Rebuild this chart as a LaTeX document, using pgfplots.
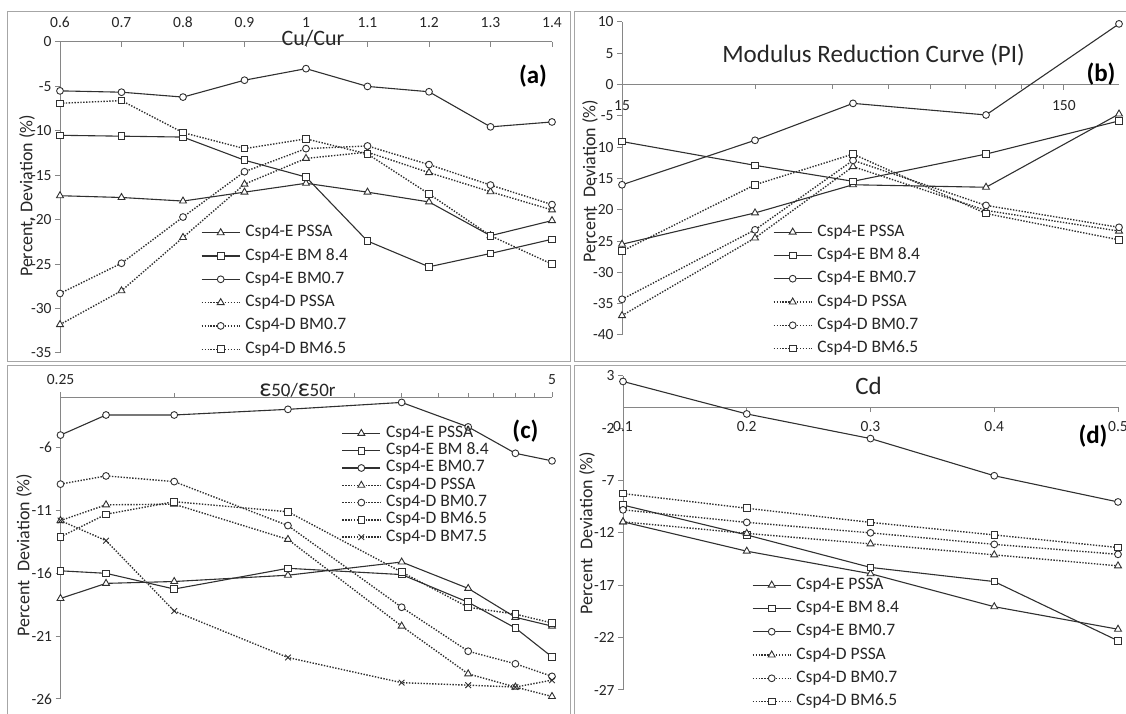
\documentclass[border=0pt]{standalone}
\usepackage{pgfplots}
\pgfplotsset{compat=1.18}
\usepackage{fontspec}
\setmainfont{Carlito}
\definecolor{axgray}{HTML}{868686}
\definecolor{frgray}{HTML}{A6A6A6}
\definecolor{ser}{HTML}{303030}
\definecolor{txt}{HTML}{262626}
\newcommand{\ticksz}{\fontsize{15.5}{17}\selectfont}
\newcommand{\legsz}{\fontsize{17.5}{19}\selectfont}
\pgfplotsset{
  every non boxed x axis/.style={},
  every non boxed y axis/.style={},
  panel/.style={
    scale only axis, clip=false,
    enlarge x limits=false, enlarge y limits=false,
    axis line style={draw=axgray, line width=1pt},
    tick style={draw=axgray, line width=1pt},
    major tick length=5pt, minor tick length=4pt,
    tick label style={font=\ticksz, text=txt},
    /pgf/number format/assume math mode=true,
    axis y line=left, ytick align=outside,
    hide obscured x ticks=false, hide obscured y ticks=false,
    legend cell align=left,
    legend style={draw=none, fill=none, inner sep=0pt, outer sep=0pt, anchor=north west,
      font=\legsz, text=txt, row sep=7.3pt,
      nodes={inner sep=0pt, outer sep=0pt, text height=12pt, text depth=4pt},
      /tikz/every odd column/.append style={column sep=5pt}},
    legend image code/.code={\draw[mark repeat=2,mark phase=2,##1] plot coordinates {(0pt,0pt) (19pt,0pt) (38pt,0pt)};},
  },
  es/.style={draw=ser, line width=1.1pt, solid, mark options={solid, fill=white, draw=ser, line width=0.9pt}},
  ds/.style={draw=ser, line width=1.4pt, dash pattern=on 1.4pt off 1.5pt, mark options={solid, fill=white, draw=ser, line width=0.9pt}},
  mtri/.style={mark=triangle*, mark size=4pt},
  msq/.style={mark=square*, mark size=3.3pt},
  mcir/.style={mark=*, mark size=3.4pt},
  mx/.style={mark=x, mark size=4pt},
}
\begin{document}
\begin{tikzpicture}
\useasboundingbox (0pt,0pt) rectangle (1126pt,714pt);
\clip (0pt,0pt) rectangle (1126pt,714pt);
% panel frames
\draw[frgray, line width=1pt] (7pt,352pt) rectangle (570pt,702pt);
\draw[frgray, line width=1pt] (574pt,352pt) rectangle (1135pt,702pt);
\draw[frgray, line width=1pt] (7pt,-10pt) rectangle (570pt,348pt);
\draw[frgray, line width=1pt] (574pt,-10pt) rectangle (1135pt,348pt);

% ---------------- (a)
\begin{axis}[panel, at={(60pt,361pt)}, anchor=south west, width=492pt, height=311pt,
  xmin=0.6, xmax=1.4, ymin=-35, ymax=0,
  axis x line=top, xtick align=inside,
  xtick={0.6,0.7,0.8,0.9,1,1.1,1.2,1.3,1.4},
  xticklabels={0.6,0.7,0.8,0.9,1,1.1,1.2,1.3,1.4},
  xticklabel style={inner sep=0pt, yshift=14pt},
  ytick={-35,-30,-25,-20,-15,-10,-5,0},
  legend style={at={(0.2866,0.4125)}},
  every inner x axis line/.append style={-}, every outer x axis line/.append style={-},
  every inner y axis line/.append style={-}, every outer y axis line/.append style={-}]
\addplot[es, mtri] coordinates {(0.6,-17.3) (0.7,-17.5) (0.8,-17.9) (0.9,-16.9) (1,-15.9) (1.1,-16.9) (1.2,-18.0) (1.3,-21.8) (1.4,-20.1)};
\addlegendentry{Csp4-E PSSA}
\addplot[es, msq] coordinates {(0.6,-10.5) (0.7,-10.6) (0.8,-10.7) (0.9,-13.3) (1,-15.2) (1.1,-22.4) (1.2,-25.3) (1.3,-23.8) (1.4,-22.2)};
\addlegendentry{Csp4-E BM 8.4}
\addplot[es, mcir] coordinates {(0.6,-5.5) (0.7,-5.65) (0.8,-6.2) (0.9,-4.3) (1,-3.0) (1.1,-5.0) (1.2,-5.6) (1.3,-9.55) (1.4,-9.0)};
\addlegendentry{Csp4-E BM0.7}
\addplot[ds, mtri] coordinates {(0.6,-31.8) (0.7,-28.0) (0.8,-22.0) (0.9,-16.0) (1,-13.1) (1.1,-12.4) (1.2,-14.7) (1.3,-16.85) (1.4,-18.9)};
\addlegendentry{Csp4-D PSSA}
\addplot[ds, mcir] coordinates {(0.6,-28.3) (0.7,-24.9) (0.8,-19.7) (0.9,-14.6) (1,-12.0) (1.1,-11.7) (1.2,-13.8) (1.3,-16.1) (1.4,-18.3)};
\addlegendentry{Csp4-D BM0.7}
\addplot[ds, msq] coordinates {(0.6,-6.9) (0.7,-6.6) (0.8,-10.2) (0.9,-12.0) (1,-10.9) (1.1,-12.6) (1.2,-17.1) (1.3,-21.8) (1.4,-25.0)};
\addlegendentry{Csp4-D BM6.5}
\end{axis}

% ---------------- (b)
\begin{axis}[panel, at={(622pt,379pt)}, anchor=south west, width=497pt, height=313pt,
  xmode=log, xmin=15, xmax=200, ymin=-40, ymax=10,
  axis x line=middle, xtick align=outside,
  xtick={15,150}, xticklabels={15,150}, minor xtick={},
  xticklabel style={yshift=-7pt},
  ytick={-40,-35,-30,-25,-20,-15,-10,-5,0,5,10},
  legend style={at={(0.3038,0.3543)}},
  every inner x axis line/.append style={-}, every outer x axis line/.append style={-},
  every inner y axis line/.append style={-}, every outer y axis line/.append style={-}]
\addplot[es, mtri] coordinates {(15,-25.5) (30,-20.5) (50,-16.0) (100,-16.4) (200,-4.7)};
\addlegendentry{Csp4-E PSSA}
\addplot[es, msq] coordinates {(15,-9.1) (30,-12.9) (50,-15.45) (100,-11.1) (200,-5.8)};
\addlegendentry{Csp4-E BM 8.4}
\addplot[es, mcir] coordinates {(15,-16.0) (30,-8.9) (50,-3.0) (100,-4.85) (200,9.7)};
\addlegendentry{Csp4-E BM0.7}
\addplot[ds, mtri] coordinates {(15,-36.9) (30,-24.5) (50,-13.1) (100,-20.1) (200,-23.4)};
\addlegendentry{Csp4-D PSSA}
\addplot[ds, mcir] coordinates {(15,-34.3) (30,-23.2) (50,-12.1) (100,-19.3) (200,-22.8)};
\addlegendentry{Csp4-D BM0.7}
\addplot[ds, msq] coordinates {(15,-26.6) (30,-16.0) (50,-11.1) (100,-20.6) (200,-24.8)};
\addlegendentry{Csp4-D BM6.5}
\end{axis}

% ---------------- (c)
\begin{axis}[panel, at={(60.5pt,15pt)}, anchor=south west, width=491.5pt, height=301.6pt,
  xmode=log, xmin=0.25, xmax=5, ymin=-26, ymax=-2,
  axis x line=top, xtick align=outside,
  xtick={0.25,5}, xticklabels={0.25,5},
  minor xtick={0.5,1,1.5,2,2.5,3,3.5,4,4.5},
  xticklabel style={yshift=4pt},
  ytick={-26,-21,-16,-11,-6},
  legend style={at={(0.572,0.9072)}, row sep=1.3pt},
  every inner x axis line/.append style={-}, every outer x axis line/.append style={-},
  every inner y axis line/.append style={-}, every outer y axis line/.append style={-}]
\addplot[es, mtri] coordinates {(0.25,-18.0) (0.33,-16.8) (0.5,-16.65) (1,-16.15) (2,-15.1) (3,-17.2) (4,-19.5) (5,-20.2)};
\addlegendentry{Csp4-E PSSA}
\addplot[es, msq] coordinates {(0.25,-15.8) (0.33,-16.0) (0.5,-17.25) (1,-15.6) (2,-16.1) (3,-18.3) (4,-20.35) (5,-22.65)};
\addlegendentry{Csp4-E BM 8.4}
\addplot[es, mcir] coordinates {(0.25,-5.0) (0.33,-3.4) (0.5,-3.4) (1,-2.95) (2,-2.4) (3,-4.35) (4,-6.45) (5,-7.05)};
\addlegendentry{Csp4-E BM0.7}
\addplot[ds, mtri] coordinates {(0.25,-11.8) (0.33,-10.55) (0.5,-10.5) (1,-13.3) (2,-20.2) (3,-24.0) (4,-25.05) (5,-25.8)};
\addlegendentry{Csp4-D PSSA}
\addplot[ds, mcir] coordinates {(0.25,-8.9) (0.33,-8.25) (0.5,-8.7) (1,-12.2) (2,-18.7) (3,-22.2) (4,-23.2) (5,-24.2)};
\addlegendentry{Csp4-D BM0.7}
\addplot[ds, msq] coordinates {(0.25,-13.1) (0.33,-11.3) (0.5,-10.3) (1,-11.1) (2,-15.9) (3,-18.7) (4,-19.25) (5,-19.95)};
\addlegendentry{Csp4-D BM6.5}
\addplot[ds, mx] coordinates {(0.25,-11.8) (0.33,-13.4) (0.5,-19.0) (1,-22.7) (2,-24.7) (3,-24.9) (4,-25.05) (5,-24.5)};
\addlegendentry{Csp4-D BM7.5}
\end{axis}

% ---------------- (d)
\begin{axis}[panel, at={(623pt,24pt)}, anchor=south west, width=495pt, height=314.3pt,
  xmin=0.1, xmax=0.5, ymin=-27, ymax=3,
  axis x line=middle, xtick align=outside,
  xtick={0.1,0.2,0.3,0.4,0.5}, xticklabels={0.1,0.2,0.3,0.4,0.5},
  xticklabel style={yshift=-6pt},
  ytick={-27,-22,-17,-12,-7,-2,3},
  legend style={at={(0.2606,0.3592)}},
  every inner x axis line/.append style={-}, every outer x axis line/.append style={-},
  every inner y axis line/.append style={-}, every outer y axis line/.append style={-}]
\addplot[es, mtri] coordinates {(0.1,-10.95) (0.2,-13.75) (0.3,-15.9) (0.4,-19.05) (0.5,-21.2)};
\addlegendentry{Csp4-E PSSA}
\addplot[es, msq] coordinates {(0.1,-9.35) (0.2,-12.2) (0.3,-15.3) (0.4,-16.65) (0.5,-22.3)};
\addlegendentry{Csp4-E BM 8.4}
\addplot[es, mcir] coordinates {(0.1,2.45) (0.2,-0.65) (0.3,-3.0) (0.4,-6.55) (0.5,-9.05)};
\addlegendentry{Csp4-E BM0.7}
\addplot[ds, mtri] coordinates {(0.1,-10.95) (0.2,-12.05) (0.3,-13.05) (0.4,-14.1) (0.5,-15.15)};
\addlegendentry{Csp4-D PSSA}
\addplot[ds, mcir] coordinates {(0.1,-9.8) (0.2,-11.0) (0.3,-12.0) (0.4,-13.1) (0.5,-14.05)};
\addlegendentry{Csp4-D BM0.7}
\addplot[ds, msq] coordinates {(0.1,-8.25) (0.2,-9.65) (0.3,-11.0) (0.4,-12.2) (0.5,-13.4)};
\addlegendentry{Csp4-D BM6.5}
\end{axis}

% titles and labels
\node[font=\fontsize{22}{22}\selectfont, text=txt, anchor=base, inner sep=0pt] at (313pt,668pt) {Cu/Cur};
\node[font=\fontsize{25}{25}\selectfont, text=txt, anchor=base, inner sep=0pt] at (873.5pt,651pt) {Modulus Reduction Curve (PI)};
\node[text=txt, anchor=base, inner sep=0pt] at (297.5pt,317pt) {{\fontsize{26}{26}\selectfont ε}{\fontsize{19}{19}\selectfont 50/}{\fontsize{26}{26}\selectfont ε}{\fontsize{19}{19}\selectfont 50r}};
\node[font=\fontsize{25}{25}\selectfont, text=txt, anchor=base, inner sep=0pt] at (868.5pt,319pt) {Cd};

\node[font=\fontsize{25}{25}\selectfont\bfseries, text=black, inner sep=0pt] at (533pt,637.5pt) {(a)};
\node[font=\fontsize{25}{25}\selectfont\bfseries, text=black, inner sep=0pt] at (1101pt,639.5pt) {(b)};
\node[font=\fontsize{25}{25}\selectfont\bfseries, text=black, inner sep=0pt] at (525.5pt,282.5pt) {(c)};
\node[font=\fontsize{25}{25}\selectfont\bfseries, text=black, inner sep=0pt] at (1093pt,277.5pt) {(d)};

\node[font=\fontsize{18}{18}\selectfont, text=txt, rotate=90, inner sep=0pt] at (27pt,518pt) {Percent, Deviation (\%)};
\node[font=\fontsize{18}{18}\selectfont, text=txt, rotate=90, inner sep=0pt] at (590pt,533pt) {Percent\hspace{0.5em}Deviation (\%)};
\node[font=\fontsize{18}{18}\selectfont, text=txt, rotate=90, inner sep=0pt] at (24pt,159pt) {Percent\hspace{0.5em}Deviation (\%)};
\node[font=\fontsize{18}{18}\selectfont, text=txt, rotate=90, inner sep=0pt] at (587pt,181pt) {Percent\hspace{0.5em}Deviation (\%)};
\end{tikzpicture}
\end{document}
